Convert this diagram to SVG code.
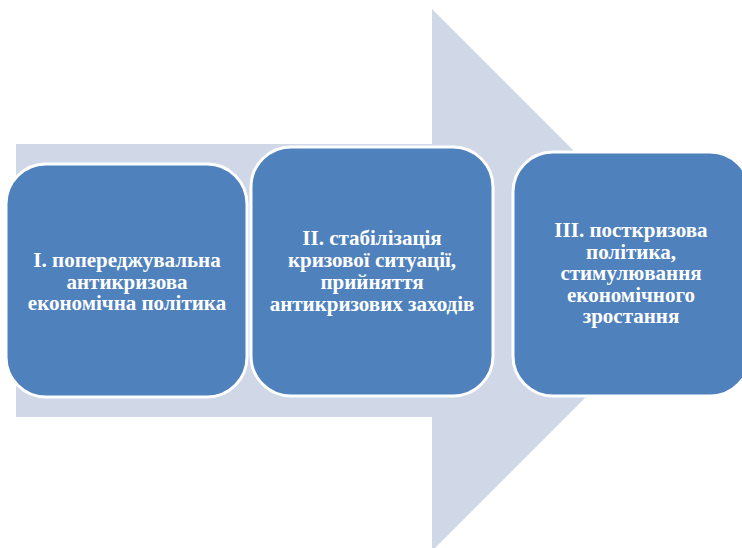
<svg xmlns="http://www.w3.org/2000/svg" width="742" height="548" viewBox="0 0 742 548">
<style>
.arrow{fill:#D0D8E8}
.box{fill:#4F81BD;stroke:#FFFFFF;stroke-width:3}
.t{font-family:"Liberation Serif","Times New Roman",serif;font-weight:bold;font-size:21px;fill:#FFFFFF;text-anchor:middle}
</style>
<rect width="742" height="548" fill="#FFFFFF"/>
<g id="arrow">
<polygon class="arrow" points="16,144 432,144 432,9 703,280 432,551 432,417 16,417"/>
</g>
<g id="connectors"></g>
<g id="node1">
<rect class="box" x="6" y="164" width="241" height="233" rx="40" ry="40"/>
<text class="t" x="127" y="267">І. попереджувальна</text>
<text class="t" x="127" y="289">антикризова</text>
<text class="t" x="127" y="310">економічна політика</text>
</g>
<g id="node2">
<rect class="box" x="251" y="147" width="242" height="249" rx="40" ry="40"/>
<text class="t" x="372" y="245">ІІ. стабілізація</text>
<text class="t" x="372" y="267">кризової ситуації,</text>
<text class="t" x="372" y="289">прийняття</text>
<text class="t" x="372" y="311">антикризових заходів</text>
</g>
<g id="node3">
<rect class="box" x="513" y="152" width="237" height="244" rx="40" ry="40"/>
<text class="t" x="631" y="237">ІІІ. посткризова</text>
<text class="t" x="631" y="259">політика,</text>
<text class="t" x="631" y="280">стимулювання</text>
<text class="t" x="631" y="302">економічного</text>
<text class="t" x="631" y="323">зростання</text>
</g>
</svg>
